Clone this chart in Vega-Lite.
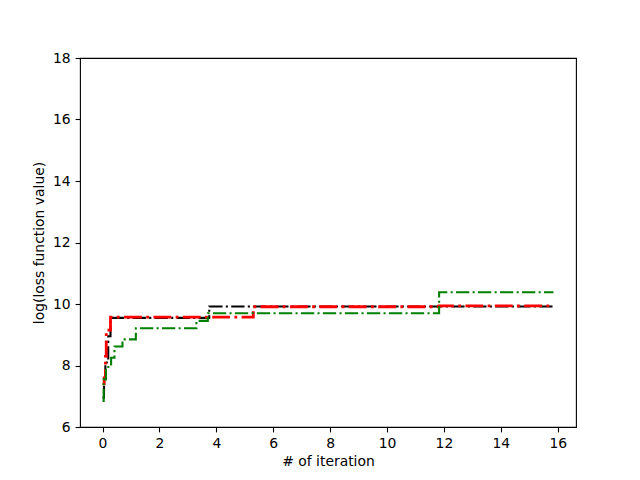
{
  "$schema": "https://vega.github.io/schema/vega-lite/v6.json",
  "width": 496,
  "height": 369,
  "autosize": {"type": "none"},
  "padding": {"left": 80, "top": 58, "right": 64, "bottom": 53},
  "background": "white",
  "config": {
    "view": {"stroke": "black", "strokeWidth": 1.1},
    "font": "DejaVu Sans",
    "axis": {
      "grid": false,
      "domain": false,
      "tickColor": "black",
      "tickSize": 4.9,
      "tickWidth": 1.1,
      "labelColor": "black",
      "labelFontSize": 13.9,
      "labelFont": "DejaVu Sans",
      "titleFont": "DejaVu Sans",
      "titleFontSize": 13.9,
      "titleFontWeight": "normal",
      "titleColor": "black",
      "labelPadding": 4.9
    }
  },
  "data": {
    "values": [
      {"s": "black", "x": 0, "y": 6.95},
      {"s": "black", "x": 0.05, "y": 7.5},
      {"s": "black", "x": 0.1, "y": 8.1},
      {"s": "black", "x": 0.2, "y": 8.95},
      {"s": "black", "x": 0.28, "y": 9.55},
      {"s": "black", "x": 3.75, "y": 9.92},
      {"s": "black", "x": 15.85, "y": 9.92},
      {"s": "red", "x": 0, "y": 7.4},
      {"s": "red", "x": 0.06, "y": 7.6},
      {"s": "red", "x": 0.1, "y": 8.3},
      {"s": "red", "x": 0.13, "y": 9.15},
      {"s": "red", "x": 0.28, "y": 9.57},
      {"s": "red", "x": 5.3, "y": 9.91},
      {"s": "red", "x": 11.83, "y": 9.94},
      {"s": "red", "x": 15.85, "y": 9.94},
      {"s": "green", "x": 0, "y": 6.85},
      {"s": "green", "x": 0.04, "y": 7.55},
      {"s": "green", "x": 0.12, "y": 7.95},
      {"s": "green", "x": 0.3, "y": 8.25},
      {"s": "green", "x": 0.42, "y": 8.62},
      {"s": "green", "x": 0.7, "y": 8.85},
      {"s": "green", "x": 1.17, "y": 9.21},
      {"s": "green", "x": 3.3, "y": 9.45},
      {"s": "green", "x": 3.7, "y": 9.7},
      {"s": "green", "x": 11.83, "y": 10.38},
      {"s": "green", "x": 15.85, "y": 10.38}
    ]
  },
  "encoding": {
    "x": {
      "field": "x", "type": "quantitative",
      "scale": {"domain": [-0.7925, 16.6425], "nice": false, "zero": false},
      "axis": {"values": [0, 2, 4, 6, 8, 10, 12, 14, 16], "title": "# of iteration", "titlePadding": 4}
    },
    "y": {
      "field": "y", "type": "quantitative",
      "scale": {"domain": [6, 18], "nice": false, "zero": false},
      "axis": {"values": [6, 8, 10, 12, 14, 16, 18], "title": "log(loss function value)", "titlePadding": 6}
    }
  },
  "layer": [
    {
      "transform": [{"filter": "datum.s === 'black'"}],
      "mark": {"type": "line", "interpolate": "step-after", "color": "black", "strokeWidth": 2.1, "strokeDash": [13.3, 3.3, 2.1, 3.3], "clip": true}
    },
    {
      "transform": [{"filter": "datum.s === 'red'"}],
      "mark": {"type": "line", "interpolate": "step-after", "color": "#ff0000", "strokeWidth": 2.8, "strokeDash": [17.8, 4.4, 2.8, 4.4], "clip": true}
    },
    {
      "transform": [{"filter": "datum.s === 'green'"}],
      "mark": {"type": "line", "interpolate": "step-after", "color": "#008000", "strokeWidth": 2.1, "strokeDash": [13.3, 3.3, 2.1, 3.3], "clip": true}
    }
  ]
}
